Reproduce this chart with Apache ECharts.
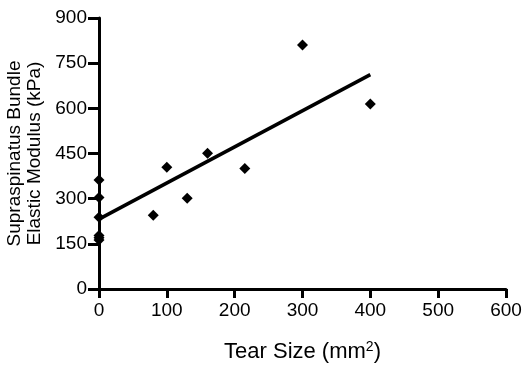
<!DOCTYPE html>
<html><head><meta charset="utf-8">
<script src="https://cdn.jsdelivr.net/npm/echarts@6/dist/echarts.min.js"></script>
<style>html,body{margin:0;padding:0;background:#fff}#c{width:525px;height:365px}</style>
</head><body><div id="c"></div>
<script>
const tearSize = [0, 0, 0, 0, 0, 0, 80, 100, 130, 160, 215, 300, 400];
const modulus  = [362, 304, 238, 178, 170, 163, 245, 404, 301, 451, 400, 810, 614];
const fitX = [0, 400];
const fitY = [232, 712];
const xTicks = [0, 100, 200, 300, 400, 500, 600];
const yTicks = [0, 150, 300, 450, 600, 750, 900];

const font = 'Liberation Sans, Arial, sans-serif';
const chart = echarts.init(document.getElementById('c'));
chart.setOption({
  animation: false,
  grid: {left: 99, right: 19, top: 18, bottom: 76, containLabel: false, outerBoundsMode: 'none'},
  xAxis: {
    type: 'value', min: xTicks[0], max: xTicks[xTicks.length-1], interval: 100,
    name: 'Tear Size (mm{s|2})', nameLocation: 'middle', nameGap: 51,
    nameTextStyle: {fontFamily: font, fontSize: 22, color: '#000',
      rich: {s: {fontFamily: font, fontSize: 14, color: '#000', verticalAlign: 'top', padding: [0,0,9,0]}}},
    axisLine: {onZero: false, lineStyle: {color: '#000', width: 3}},
    axisTick: {show: true, inside: false, length: 9, lineStyle: {color: '#000', width: 3}},
    axisLabel: {fontFamily: font, fontSize: 19, color: '#000', margin: 12},
    splitLine: {show: false}
  },
  yAxis: {
    type: 'value', min: yTicks[0], max: yTicks[yTicks.length-1], interval: 150,
    name: 'Supraspinatus Bundle\nElastic Modulus (kPa)', nameLocation: 'middle', nameGap: 46,
    nameTextStyle: {fontFamily: font, fontSize: 19, color: '#000', lineHeight: 20},
    axisLine: {onZero: false, lineStyle: {color: '#000', width: 3}},
    axisTick: {show: true, inside: false, length: 11, lineStyle: {color: '#000', width: 3}},
    axisLabel: {fontFamily: font, fontSize: 19, color: '#000', margin: 12},
    splitLine: {show: false}
  },
  series: [
    {type: 'line', data: fitX.map((x,i)=>[x, fitY[i]]), symbol: 'none',
     lineStyle: {color: '#000', width: 3.5}, z: 3},
    {type: 'scatter', data: tearSize.map((x,i)=>[x, modulus[i]]), symbol: 'diamond',
     symbolSize: 11, itemStyle: {color: '#000', opacity: 1}, z: 4}
  ]
});
</script></body></html>
